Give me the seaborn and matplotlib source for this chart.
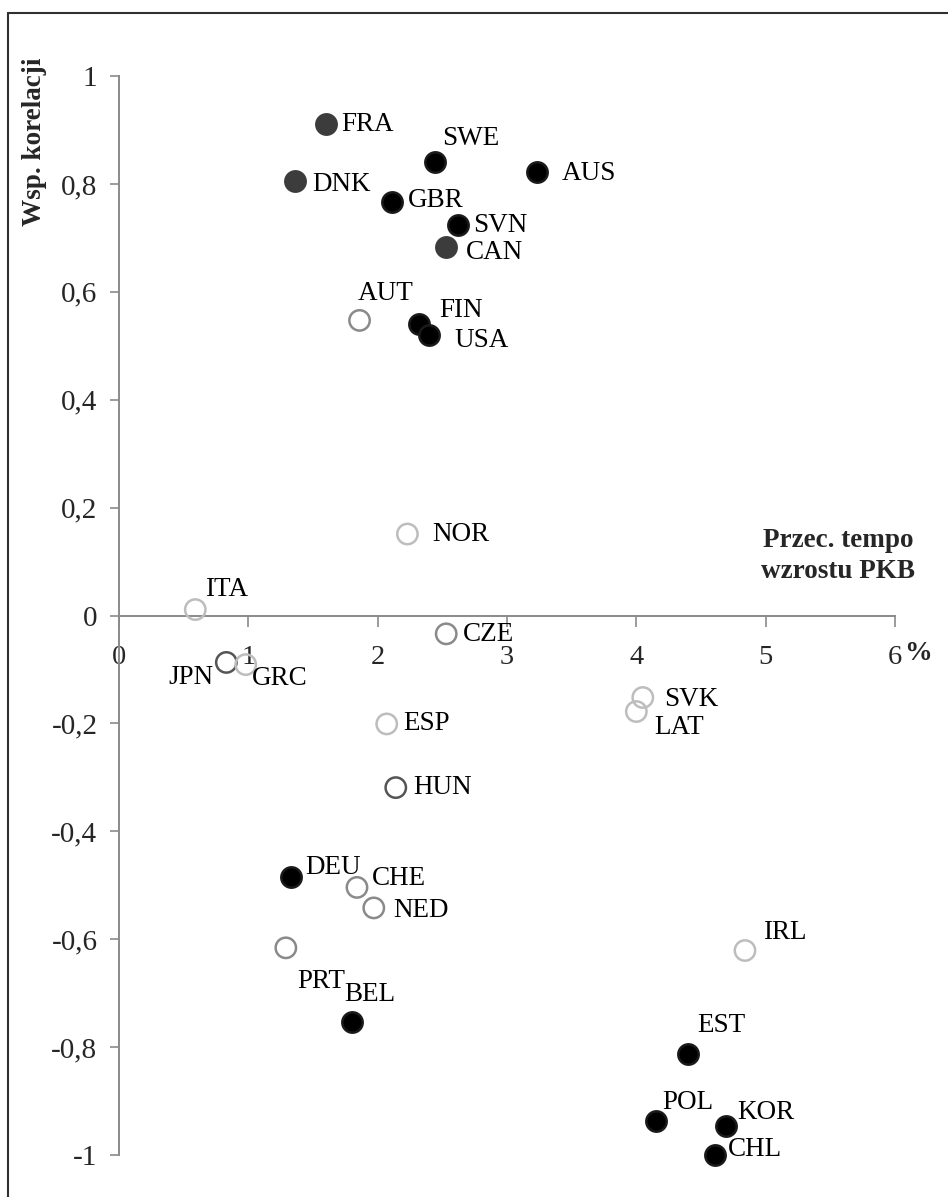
import numpy as np
import pandas as pd
import matplotlib
matplotlib.use('Agg')
import matplotlib.pyplot as plt
from matplotlib.lines import Line2D
from matplotlib.ticker import FuncFormatter
import seaborn as sns

# data: avg GDP growth (%) vs correlation coefficient
countries = ['FRA', 'DNK', 'SWE', 'GBR', 'AUS', 'SVN', 'CAN', 'AUT', 'FIN', 'USA',
             'NOR', 'ITA', 'CZE', 'JPN', 'GRC', 'ESP', 'HUN', 'SVK', 'LAT',
             'DEU', 'CHE', 'NED', 'PRT', 'BEL', 'IRL', 'EST', 'POL', 'KOR', 'CHL']
growth = [1.60, 1.36, 2.44, 2.11, 3.23, 2.62, 2.53, 1.86, 2.32, 2.40,
          2.23, 0.59, 2.53, 0.83, 0.98, 2.07, 2.14, 4.05, 4.00,
          1.33, 1.84, 1.97, 1.29, 1.80, 4.84, 4.40, 4.15, 4.69, 4.61]
corr = [0.911, 0.805, 0.840, 0.766, 0.822, 0.723, 0.683, 0.547, 0.541, 0.519,
        0.151, 0.011, -0.034, -0.087, -0.091, -0.201, -0.319, -0.152, -0.178,
        -0.485, -0.504, -0.542, -0.616, -0.754, -0.621, -0.812, -0.937, -0.947, -1.0]
group = ['dark', 'dark', 'black', 'black', 'black', 'black', 'dark', 'mid', 'black', 'black',
         'light', 'light', 'mid', 'deep', 'light', 'light', 'deep', 'light', 'light',
         'black', 'mid', 'mid', 'mid', 'black', 'light', 'black', 'black', 'black', 'black']

df = pd.DataFrame({'country': countries, 'x': growth, 'y': corr, 'group': group})

# marker styles per group: (face, edge)
styles = {
    'black': ('#000000', '#1a1a1a'),
    'dark': ('#3c3c3c', '#3c3c3c'),
    'deep': ('none', '#555555'),
    'mid': ('none', '#8a8a8a'),
    'light': ('none', '#bdbdbd'),
}

# label offsets in pixels (dx, dy, ha)
offsets = {
    'FRA': (15, 0, 'left'), 'DNK': (17, -3, 'left'), 'SWE': (8, 24, 'left'),
    'GBR': (16, 2, 'left'), 'AUS': (25, -1, 'left'), 'SVN': (15, 0, 'left'),
    'CAN': (20, -5, 'left'), 'AUT': (-2, 27, 'left'), 'FIN': (20, 13, 'left'),
    'USA': (25, -5, 'left'), 'NOR': (25, 0, 'left'), 'ITA': (10, 20, 'left'),
    'CZE': (17, -1, 'left'), 'JPN': (-13, -15, 'right'), 'GRC': (6, -14, 'left'),
    'ESP': (17, 0, 'left'), 'HUN': (18, 0, 'left'), 'SVK': (21, -2, 'left'),
    'LAT': (18, -16, 'left'), 'DEU': (14, 10, 'left'), 'CHE': (15, 9, 'left'),
    'NED': (19, -3, 'left'), 'PRT': (11, -34, 'left'), 'BEL': (-8, 28, 'left'),
    'IRL': (18, 18, 'left'), 'EST': (9, 28, 'left'), 'POL': (7, 19, 'left'),
    'KOR': (12, 14, 'left'), 'CHL': (13, 5, 'left'),
}

sns.set_style('white')
plt.rcParams['font.family'] = ['Liberation Serif', 'DejaVu Serif']

W, H = 948, 1197
fig = plt.figure(figsize=(W / 100, H / 100), dpi=100)
ax = fig.add_axes([119 / W, 1 - 1155 / H, (895 - 119) / W, (1155 - 76) / H])

for g, (fc, ec) in styles.items():
    sub = df[df['group'] == g]
    sns.scatterplot(data=sub, x='x', y='y', s=215, facecolor=fc, edgecolor=ec,
                    linewidth=1.8, ax=ax, zorder=3, clip_on=False, legend=False)

for _, r in df.iterrows():
    dx, dy, ha = offsets[r['country']]
    ax.annotate(r['country'], (r['x'], r['y']), xytext=(dx, dy),
                textcoords='offset pixels', ha=ha, va='center', fontsize=19.5,
                color='black', zorder=4)


def fmt_y(v, p):
    v = round(v, 1)
    if abs(v) < 1e-9:
        return '0'
    return ('%g' % v).replace('.', ',')


ax.set_xlim(0, 6)
ax.set_ylim(-1, 1)
ax.set_xticks(np.arange(0, 7, 1))
ax.set_yticks(np.arange(-1, 1.01, 0.2))
ax.yaxis.set_major_formatter(FuncFormatter(fmt_y))
ax.xaxis.set_major_formatter(FuncFormatter(lambda v, p: '%g' % v))

for s in ['top', 'right']:
    ax.spines[s].set_visible(False)
ax.spines['bottom'].set_position(('data', 0))
for s in ['left', 'bottom']:
    ax.spines[s].set_color('#8a8a8a')
    ax.spines[s].set_linewidth(1.4)
ax.tick_params(axis='x', direction='out', length=8, width=1.2, color='#8a8a8a',
               pad=13, labelsize=20.5, bottom=True)
ax.tick_params(axis='y', direction='out', length=6.5, width=1.2, color='#8a8a8a',
               pad=9, labelsize=21, left=True)
ax.set_xlabel('')
ax.set_ylabel('')

fig.text(35 / W, 1 - 142 / H, 'Wsp. korelacji', rotation=90, ha='center', va='center',
         fontsize=19.5, fontweight='bold')
fig.text(838 / W, 1 - 556 / H, 'Przec. tempo\nwzrostu PKB', ha='center', va='center',
         fontsize=19.5, fontweight='bold', linespacing=1.35)
fig.text(918 / W, 1 - 654 / H, '%', ha='center', va='center', fontsize=20, fontweight='bold')

# outer frame (left and top edges)
fig.add_artist(Line2D([8 / W, 8 / W], [0, 1 - 13 / H], color='#303030', lw=1.5,
                      transform=fig.transFigure))
fig.add_artist(Line2D([8 / W, 1], [1 - 13 / H, 1 - 13 / H], color='#303030', lw=1.5,
                      transform=fig.transFigure))

fig.savefig('out.png', dpi=100)
